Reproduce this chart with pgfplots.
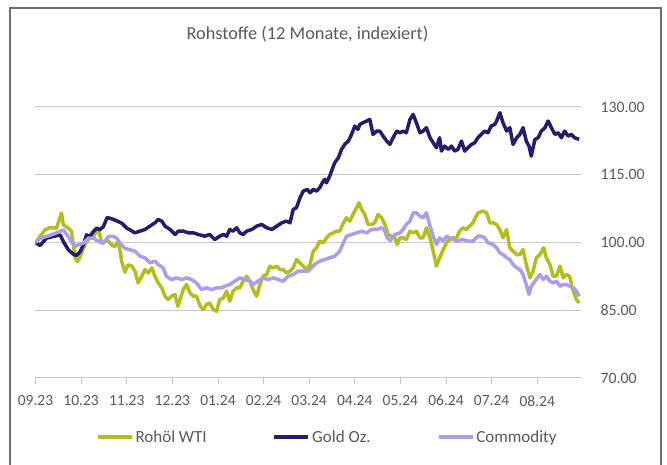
\documentclass[border=0pt]{standalone}
\usepackage{pgfplots}
\usepackage{pgfplotstable}
\pgfplotsset{compat=1.18}
\usepackage{fontspec}
\setmainfont{Carlito}
\definecolor{wticol}{HTML}{B5BD1E}
\definecolor{goldcol}{HTML}{231D6B}
\definecolor{commcol}{HTML}{A99FE8}
\definecolor{txt}{HTML}{595959}
\definecolor{gridc}{HTML}{C6C6C6}
\definecolor{framec}{HTML}{6E6E6E}

\pgfplotstableread{
m v
0.00 100.00
0.10 101.33
0.21 102.81
0.32 103.32
0.46 103.18
0.57 106.50
0.61 103.92
0.72 103.18
0.79 102.44
0.87 96.53
0.92 95.79
0.98 96.90
1.05 98.74
1.12 100.22
1.19 100.96
1.27 101.33
1.38 103.18
1.45 99.85
1.57 100.59
1.67 99.48
1.74 99.11
1.82 100.22
1.89 95.79
1.96 93.43
2.03 95.05
2.11 94.76
2.18 93.65
2.25 91.06
2.33 92.54
2.40 94.02
2.47 93.28
2.55 94.39
2.62 92.54
2.69 91.06
2.77 89.95
2.84 88.10
2.91 87.37
2.98 88.10
3.06 88.48
3.12 85.89
3.17 87.37
3.24 89.58
3.31 90.69
3.39 88.85
3.46 88.10
3.53 88.10
3.61 85.89
3.68 85.15
3.75 86.26
3.82 86.63
3.90 85.15
3.97 84.78
4.04 87.37
4.12 87.74
4.19 89.22
4.26 87.00
4.33 89.22
4.41 89.95
4.48 89.95
4.55 91.43
4.63 92.54
4.70 91.43
4.77 89.58
4.85 88.11
4.92 90.69
4.99 92.54
5.07 92.91
5.14 94.76
5.21 94.39
5.29 94.76
5.36 94.02
5.43 94.02
5.50 93.28
5.58 93.65
5.65 94.39
5.72 96.23
5.80 95.49
5.87 94.76
5.94 94.02
6.02 95.12
6.09 98.08
6.16 98.82
6.23 100.30
6.31 99.93
6.38 101.03
6.45 101.77
6.53 102.14
6.60 102.51
6.67 102.51
6.75 104.36
6.82 105.47
6.89 104.73
6.96 106.21
7.04 107.68
7.09 108.79
7.15 107.31
7.22 106.21
7.29 103.99
7.37 103.99
7.44 104.36
7.51 106.21
7.59 105.47
7.66 103.99
7.73 101.77
7.81 101.40
7.88 101.03
7.93 99.56
7.99 101.03
8.06 101.03
8.13 100.66
8.21 102.51
8.28 102.14
8.35 102.51
8.43 101.03
8.50 101.03
8.57 103.25
8.65 101.03
8.72 98.08
8.79 94.76
8.86 96.60
8.94 98.45
9.01 99.93
9.08 100.66
9.15 101.03
9.23 101.03
9.30 102.51
9.37 103.25
9.45 102.88
9.52 103.62
9.59 104.36
9.70 106.57
9.81 106.94
9.89 106.57
9.96 104.36
10.03 104.36
10.11 103.99
10.18 102.88
10.25 101.03
10.33 102.88
10.40 98.82
10.47 98.08
10.55 97.34
10.62 97.34
10.69 98.45
10.76 95.12
10.84 92.17
10.91 93.65
10.98 96.60
11.06 97.34
11.14 98.82
11.20 96.60
11.28 95.12
11.35 92.54
11.42 92.54
11.50 94.76
11.57 92.17
11.64 92.91
11.71 92.54
11.79 89.22
11.86 87.37
11.92 86.63
}\wti

\pgfplotstableread{
m v
0.00 100.00
0.10 99.34
0.24 100.96
0.39 101.33
0.54 101.70
0.61 100.22
0.72 98.37
0.83 97.41
0.90 97.12
0.98 98.00
1.05 99.48
1.12 101.70
1.19 101.33
1.27 102.44
1.34 103.18
1.41 102.81
1.49 103.55
1.57 105.54
1.67 105.25
1.78 104.80
1.89 104.28
2.00 103.18
2.07 102.81
2.18 102.14
2.29 102.51
2.40 102.88
2.51 103.62
2.62 104.36
2.69 105.10
2.77 104.73
2.84 103.62
2.95 102.88
3.06 101.77
3.13 102.51
3.24 102.51
3.35 102.14
3.46 102.14
3.57 101.77
3.71 101.40
3.82 101.77
3.93 100.66
4.04 101.40
4.12 101.77
4.19 101.40
4.26 102.88
4.33 102.51
4.41 103.25
4.48 102.14
4.55 101.77
4.63 102.51
4.74 102.88
4.85 103.62
4.96 103.99
5.07 103.25
5.18 102.88
5.29 103.62
5.40 104.36
5.50 104.73
5.58 104.36
5.65 107.31
5.72 107.68
5.80 109.90
5.87 111.38
5.96 111.75
6.02 111.01
6.09 111.75
6.16 111.38
6.23 112.11
6.31 113.59
6.34 113.96
6.38 113.22
6.45 114.70
6.49 115.81
6.56 117.66
6.64 118.76
6.71 120.61
6.78 121.72
6.86 122.46
6.93 123.93
7.00 125.78
7.07 125.04
7.11 126.15
7.18 126.52
7.26 126.89
7.33 127.26
7.40 123.93
7.48 124.67
7.55 124.67
7.62 123.56
7.70 122.46
7.77 121.72
7.84 123.19
7.92 124.67
7.99 124.30
8.06 124.67
8.13 124.30
8.21 127.26
8.28 128.37
8.35 126.52
8.43 124.30
8.50 124.67
8.57 125.41
8.65 123.19
8.72 122.09
8.79 120.98
8.86 123.19
8.90 120.24
8.97 121.35
9.05 120.61
9.12 121.35
9.19 120.24
9.26 120.61
9.34 122.46
9.41 120.24
9.48 120.98
9.56 121.72
9.63 122.09
9.70 123.19
9.77 123.93
9.85 124.67
9.92 124.30
9.99 125.78
10.07 126.15
10.11 126.89
10.18 128.74
10.25 126.52
10.33 124.67
10.40 125.41
10.47 121.72
10.55 123.19
10.62 123.93
10.69 125.41
10.76 122.46
10.82 121.35
10.87 119.13
10.95 122.83
11.02 123.19
11.09 124.67
11.17 125.41
11.24 126.89
11.31 125.41
11.39 123.93
11.46 124.30
11.53 123.19
11.60 124.67
11.68 123.56
11.75 123.93
11.82 123.19
11.92 122.83
}\gold

\pgfplotstableread{
m v
0.00 100.00
0.10 100.96
0.24 101.33
0.39 101.85
0.54 102.44
0.61 102.81
0.68 101.85
0.79 100.22
0.87 99.11
0.94 99.48
1.05 99.85
1.16 100.96
1.27 100.96
1.38 100.22
1.49 99.85
1.60 101.33
1.71 101.33
1.78 100.96
1.85 99.85
1.96 98.74
2.07 98.37
2.18 98.08
2.29 96.97
2.40 96.60
2.51 95.49
2.62 95.86
2.69 95.12
2.80 94.39
2.87 92.54
2.98 91.80
3.09 92.17
3.21 91.80
3.31 92.17
3.42 91.80
3.53 91.06
3.64 89.58
3.75 89.95
3.86 89.58
3.97 89.95
4.08 89.95
4.15 90.32
4.26 90.69
4.37 91.43
4.48 92.17
4.59 91.80
4.70 91.43
4.77 90.69
4.88 91.43
4.99 92.17
5.10 91.80
5.21 92.17
5.32 91.80
5.43 91.43
5.54 92.54
5.65 92.91
5.76 93.65
5.87 93.65
5.98 93.65
6.05 94.39
6.12 95.12
6.23 95.86
6.34 96.23
6.45 96.60
6.56 96.97
6.67 98.08
6.75 99.93
6.82 101.40
6.93 101.77
7.04 102.14
7.15 102.51
7.26 102.14
7.37 102.88
7.48 102.88
7.59 103.25
7.66 102.51
7.71 101.03
7.78 100.44
7.88 101.77
7.99 102.14
8.06 102.88
8.13 103.99
8.21 104.73
8.28 106.57
8.35 106.57
8.43 105.84
8.50 105.47
8.57 106.57
8.65 103.62
8.72 101.40
8.79 99.56
8.86 101.03
8.94 100.30
9.01 101.40
9.08 101.03
9.15 100.66
9.26 100.30
9.37 100.66
9.48 100.30
9.59 100.30
9.70 101.40
9.77 101.40
9.85 101.03
9.92 99.93
10.03 99.56
10.11 98.82
10.18 97.71
10.25 97.34
10.33 96.60
10.40 96.23
10.47 95.12
10.55 94.39
10.62 94.02
10.69 92.91
10.76 90.69
10.82 88.48
10.87 90.32
10.95 91.43
11.06 92.91
11.13 91.80
11.20 92.54
11.28 91.43
11.35 91.06
11.42 91.43
11.50 90.32
11.57 90.69
11.64 90.69
11.71 90.32
11.79 89.95
11.86 89.22
11.92 88.11
}\comm

\begin{document}
\begin{tikzpicture}
\useasboundingbox (-35.5pt,-87pt) rectangle (631.5pt,378pt);
\draw[framec, line width=1.3pt] (-25.5pt,-120pt) rectangle (625.5pt,370pt);
\node[text=txt, font=\fontsize{18.3}{20}\selectfont] at (272pt,344pt) {Rohstoffe (12 Monate, indexiert)};
\begin{axis}[
  at={(0pt,0pt)}, anchor=south west,
  scale only axis, width=545.5pt, height=271pt,
  xmin=0, xmax=11.96, ymin=70, ymax=130,
  axis line style={draw=none},
  xtick={0,1,2,3,4,5,6,7,8,9,10,11},
  xticklabels={09.23,10.23,11.23,12.23,01.24,02.24,03.24,04.24,05.24,06.24,07.24,08.24},
  xtick pos=bottom, tick align=outside,
  xtick style={draw=gridc, line width=0.8pt},
  major tick length=6pt,
  ytick={70,85,100,115,130},
  ytick style={draw=none},
  ytick pos=right, yticklabel pos=right,
  ymajorgrids, grid style={draw=gridc, line width=1pt},
  yticklabel style={anchor=west, xshift=10pt, text=txt, font=\fontsize{15.8}{18}\selectfont},
  xticklabel style={yshift=-8pt, text=txt, font=\fontsize{15.5}{18}\selectfont},
  /pgf/number format/.cd, fixed, fixed zerofill, precision=2, assume math mode=true,
  /pgfplots/.cd,
  legend columns=3,
  legend style={at={(axis description cs:0.535,-0.2177)}, anchor=center, draw=none, fill=none,
    font=\fontsize{17}{19}\selectfont, text=txt,
    /tikz/every even column/.append style={column sep=64pt},
    nodes={inner xsep=2pt}},
  legend image code/.code={\draw[#1] (0pt,0pt) -- (34pt,0pt);},
  every axis plot/.append style={line width=3.5pt, line join=round},
]
\addplot[wticol] table[x=m,y=v]{\wti};
\addlegendentry{Rohöl WTI}
\addplot[goldcol] table[x=m,y=v]{\gold};
\addlegendentry{Gold Oz.}
\addplot[commcol] table[x=m,y=v]{\comm};
\addlegendentry{Commodity}
\end{axis}
\end{tikzpicture}
\end{document}
